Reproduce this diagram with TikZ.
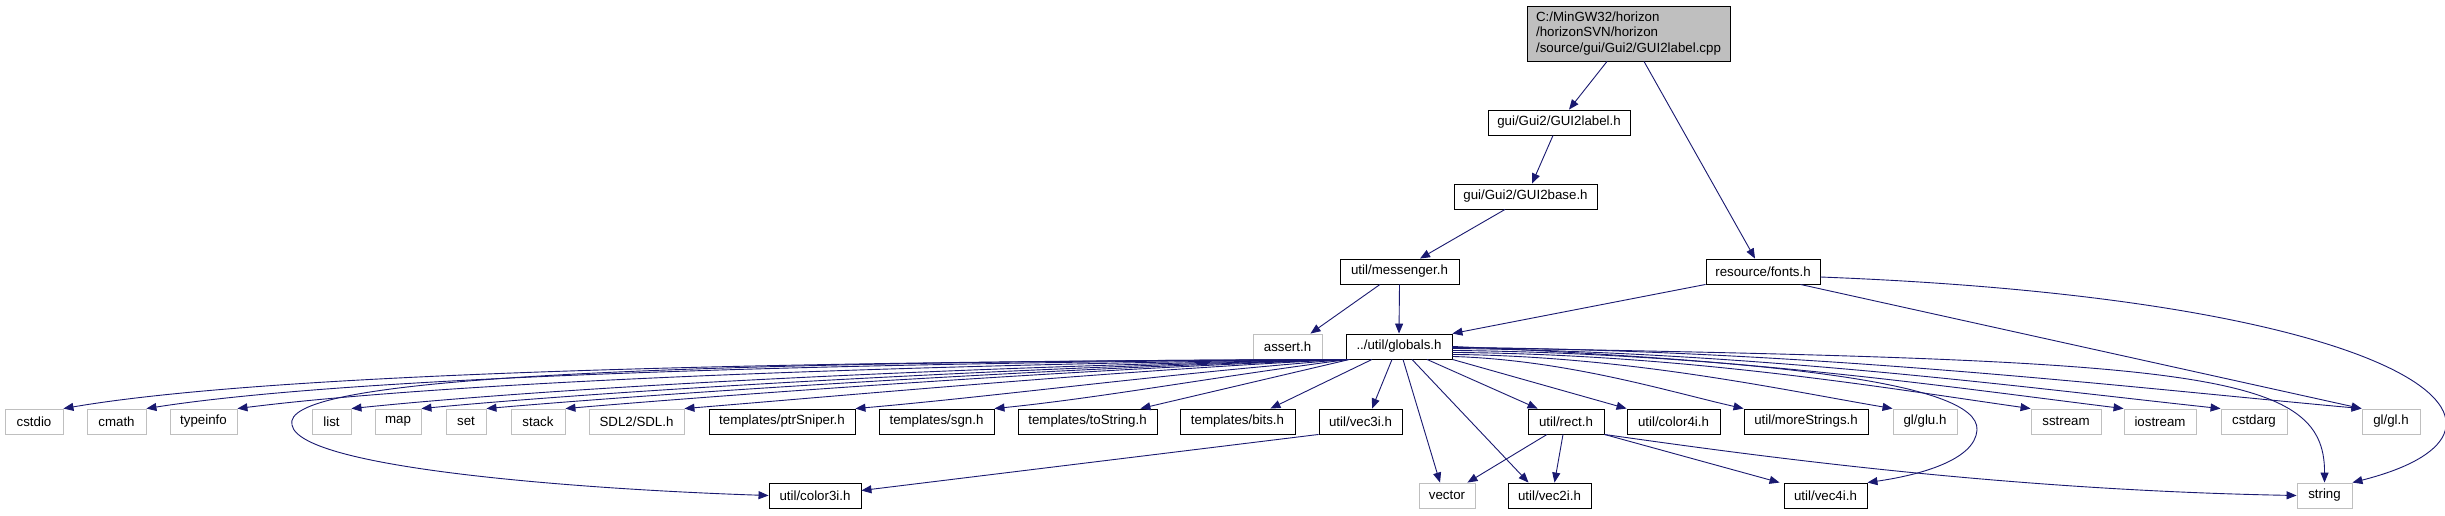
\documentclass[tikz,border=0pt]{standalone}
\usepackage{fontspec}
\setmainfont{Liberation Sans}
\usetikzlibrary{arrows.meta}
\definecolor{edgec}{HTML}{191970}
\definecolor{grayb}{HTML}{BFBFBF}
\begin{document}
\begin{tikzpicture}[x=1pt,y=-1pt,
  box/.style={draw=black, line width=0.9pt, rectangle, inner sep=0pt, minimum height=25pt, font=\fontsize{13.3}{15.5}\selectfont, fill=white},
  ext/.style={box, draw=grayb},
  dep/.style={draw=edgec, line width=0.9pt, -{Triangle[length=10pt,width=8pt]}},
]
\fill[white] (0,0) rectangle (2445,515);
\useasboundingbox (0,0) rectangle (2445,515);
% top
\node[box, fill=grayb, minimum width=203pt, minimum height=55pt, align=left] (root) at (1628.5,33.5) {C:/MinGW32/horizon\\/horizonSVN/horizon\\/source/gui/Gui2/GUI2label.cpp};
\node[box, minimum width=142pt] (label) at (1559,122.5) {gui/Gui2/GUI2label.h};
\node[box, minimum width=143pt] (base) at (1525.5,196.5) {gui/Gui2/GUI2base.h};
\node[box, minimum width=119pt] (messenger) at (1399.5,271.5) {util/messenger.h};
\node[box, minimum width=114pt] (fonts) at (1763,271.5) {resource/fonts.h};
\node[ext, minimum width=69pt] (assert) at (1287.5,346.5) {assert.h};
\node[box, minimum width=106pt] (globals) at (1399,346.5) {../util/globals.h};
% row 2
\node[ext, minimum width=58pt] (cstdio) at (34,421.5) {cstdio};
\node[ext, minimum width=59pt] (cmath) at (116.5,421.5) {cmath};
\node[ext, minimum width=67pt] (typeinfo) at (203.5,421.5) {typeinfo};
\node[ext, minimum width=39pt] (list) at (331.5,421.5) {list};
\node[ext, minimum width=46pt] (map) at (398,421.5) {map};
\node[ext, minimum width=40pt] (set) at (466,421.5) {set};
\node[ext, minimum width=54pt] (stack) at (538,421.5) {stack};
\node[ext, minimum width=95pt] (sdl) at (636.5,421.5) {SDL2/SDL.h};
\node[box, minimum width=146pt] (ptrsniper) at (782,421.5) {templates/ptrSniper.h};
\node[box, minimum width=115pt] (sgn) at (936.5,421.5) {templates/sgn.h};
\node[box, minimum width=139pt] (tostring) at (1087.5,421.5) {templates/toString.h};
\node[box, minimum width=115pt] (bits) at (1237.5,421.5) {templates/bits.h};
\node[box, minimum width=83pt] (vec3i) at (1360.5,421.5) {util/vec3i.h};
\node[box, minimum width=76pt] (rect) at (1566,421.5) {util/rect.h};
\node[box, minimum width=93pt] (color4i) at (1673.5,421.5) {util/color4i.h};
\node[box, minimum width=124pt] (morestrings) at (1806,421.5) {util/moreStrings.h};
\node[ext, minimum width=64pt] (glu) at (1925,421.5) {gl/glu.h};
\node[ext, minimum width=70pt] (sstream) at (2066,421.5) {sstream};
\node[ext, minimum width=72pt] (iostream) at (2160,421.5) {iostream};
\node[ext, minimum width=66pt] (cstdarg) at (2254,421.5) {cstdarg};
\node[ext, minimum width=58pt] (gl) at (2391,421.5) {gl/gl.h};
% row 3
\node[box, minimum width=92pt] (color3i) at (815,495.5) {util/color3i.h};
\node[ext, minimum width=56pt] (vector) at (1447,495.5) {vector};
\node[box, minimum width=83pt] (vec2i) at (1549.5,495.5) {util/vec2i.h};
\node[box, minimum width=83pt] (vec4i) at (1825.5,495.5) {util/vec4i.h};
\node[ext, minimum width=55pt] (string) at (2324.5,495.5) {string};
% edges top
\draw[dep] ([xshift=-21.5pt]root.south) -- ([xshift=10pt]label.north);
\draw[dep] ([xshift=15.5pt]root.south) -- ([xshift=-8pt]fonts.north);
\draw[dep] ([xshift=-6pt]label.south) -- ([xshift=6.5pt]base.north);
\draw[dep] ([xshift=-20.5pt]base.south) -- ([xshift=20.5pt]messenger.north);
\draw[dep] ([xshift=-19.5pt]messenger.south) -- ([xshift=-12pt]assert.north east);
\draw[dep] (messenger.south) -- (globals.north);
\draw[dep] (fonts.south west) -- (globals.north east);
\draw[dep] ([xshift=-20pt]fonts.south east) -- (gl.north west);
\draw[dep] ([yshift=-5.5pt]fonts.east) .. controls (2420,300) and (2560,430) .. (string.north east);
% globals to the left (leaving the lower left corner, passing below assert.h)
\draw[dep] (globals.south west) .. controls (900,361) and (300,368) .. (cstdio.north east);
\draw[dep] (globals.south west) .. controls (950,362) and (380,372) .. (cmath.north east);
\draw[dep] ([xshift=1pt]globals.south west) .. controls (1000,363) and (480,378) .. (typeinfo.north east);
\draw[dep] ([xshift=1pt]globals.south west) .. controls (1050,364) and (600,383) .. (list.north east);
\draw[dep] ([xshift=1.5pt]globals.south west) .. controls (1080,365) and (650,387) .. (map.north east);
\draw[dep] ([xshift=1.5pt]globals.south west) .. controls (1100,366) and (700,390) .. (set.north east);
\draw[dep] ([xshift=2pt]globals.south west) .. controls (1120,367) and (760,392) .. (stack.north east);
\draw[dep] ([xshift=2pt]globals.south west) .. controls (1150,368) and (850,395) .. (sdl.north east);
\draw[dep] ([xshift=2.5pt]globals.south west) .. controls (1180,372) and (1000,396) .. (ptrsniper.north east);
\draw[dep] ([xshift=3pt]globals.south west) .. controls (1220,376) and (1100,398) .. (sgn.north east);
\draw[dep] ([xshift=4pt]globals.south west) -- ([xshift=-17pt]tostring.north east);
\draw[dep] ([xshift=-27pt]globals.south) -- ([xshift=-25pt]bits.north east);
\draw[dep] ([xshift=-7pt]globals.south) -- ([xshift=11.5pt]vec3i.north);
\draw[dep] ([xshift=1pt]globals.south west) .. controls (600,362) and (280,380) .. (292,425) .. controls (300,470) and (600,490) .. (color3i.west);
\draw[dep] ([xshift=4pt]globals.south) -- ([xshift=-7pt]vector.north);
\draw[dep] ([xshift=13pt]globals.south) -- ([xshift=-21pt]vec2i.north);
% globals to the right
\draw[dep] ([xshift=28pt]globals.south) -- ([xshift=10pt]rect.north west);
\draw[dep] (globals.south east) -- (color4i.north west);
\draw[dep] ([yshift=3pt]globals.south east) .. controls (1568,360) and (1670,392) .. (morestrings.north west);
\draw[dep] ([yshift=5pt]globals.south east) .. controls (1628,356) and (1783,390) .. (glu.north west);
\draw[dep] ([yshift=7pt]globals.south east) .. controls (1684,354) and (1886,388) .. (sstream.north west);
\draw[dep] ([yshift=9pt]globals.south east) .. controls (1721,353) and (1956,388) .. (iostream.north west);
\draw[dep] ([yshift=11pt]globals.south east) .. controls (1760,352) and (2029,388) .. (cstdarg.north west);
\draw[dep] ([yshift=12pt]globals.south east) .. controls (1816,350) and (2134,388) .. (gl.north west);
\draw[dep] ([yshift=12pt]globals.south east) .. controls (2200,360) and (2325,370) .. (string.north);
\draw[dep] ([yshift=13pt]globals.south east) .. controls (1750,360) and (1980,380) .. (1977,430) .. controls (1975,460) and (1920,475) .. (vec4i.north east);
% other
\draw[dep] (vec3i.south west) -- ([yshift=5pt]color3i.east);
\draw[dep] ([xshift=-19pt]rect.south) -- ([xshift=-8pt]vector.north east);
\draw[dep] ([xshift=-3pt]rect.south) -- ([xshift=5pt]vec2i.north);
\draw[dep] (rect.south east) -- ([xshift=-4pt]vec4i.north west);
\draw[dep] (rect.south east) .. controls (1750,455) and (2000,490) .. (string.west);
\end{tikzpicture}
\end{document}
